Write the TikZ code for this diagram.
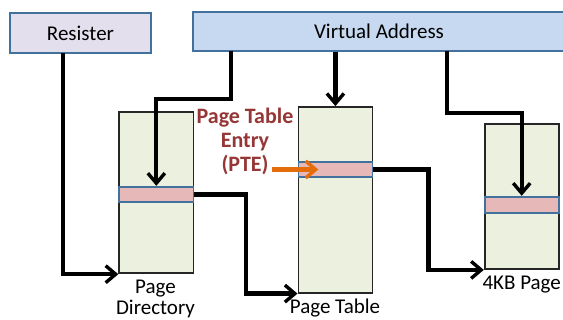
\documentclass[tikz,border=0pt]{standalone}
\usepackage{fontspec}
\setmainfont{Carlito}
\usetikzlibrary{arrows.meta}
\definecolor{boxblue}{HTML}{41719C}
\definecolor{regfill}{HTML}{E4DFEC}
\definecolor{vafill}{HTML}{C6D9F1}
\definecolor{tabfill}{HTML}{EBF1DE}
\definecolor{entryfill}{HTML}{E6B9B8}
\definecolor{ptered}{HTML}{953735}
\definecolor{ptearrow}{HTML}{E46C0A}
\tikzset{
  topbox/.style={draw=boxblue, line width=1.8pt, inner sep=0pt, font=\fontsize{21}{24}\selectfont},
  table/.style={draw=black!85, line width=1.8pt, fill=tabfill, inner sep=0pt},
  entry/.style={draw=boxblue, line width=1.8pt, fill=entryfill, inner sep=0pt},
  caption/.style={align=center, inner sep=0pt, font=\fontsize{21}{21.7}\selectfont},
  barb/.style={-{Straight Barb[length=10pt, width=17pt, line width=3.4pt]}},
  conn/.style={line width=4.2pt, barb}
}
\begin{document}
\begin{tikzpicture}[x=1pt, y=-1pt]
\useasboundingbox (0,0) rectangle (563,320);

% register and virtual address
\node[topbox, fill=regfill, minimum width=141pt, minimum height=39.5pt] (res) at (80.5,33) {Resister};
\node[topbox, fill=vafill, minimum width=372pt, minimum height=39pt] (va) at (379,31.5) {Virtual Address};

% tables
\node[table, minimum width=74.3pt, minimum height=161pt] (pd) at (156.35,192.8) {};
\node[entry, minimum width=74.3pt, minimum height=15.6pt] (pde) at (156.35,194.5) {};
\node[table, minimum width=74pt, minimum height=185.7pt] (pt) at (335.4,199.85) {};
\node[entry, minimum width=74pt, minimum height=15.6pt] (pte) at (335.4,169.5) {};
\node[table, minimum width=74pt, minimum height=144.7pt] (pg) at (521.7,196.65) {};
\node[entry, minimum width=74pt, minimum height=16pt] (pge) at (521.7,204.7) {};

% captions
\node[caption] (pdcap) at (155.5,299) {Page\\Directory};
\node[caption] (ptcap) at (335,307.7) {Page Table};
\node[caption] (pgcap) at (521.7,285) {4KB Page};
\node[align=center, inner sep=0pt, text=ptered, font=\bfseries\fontsize{22}{24}\selectfont] (ptelabel) at (245,141) {Page Table\\Entry\\(PTE)};

% connectors
\coordinate (regdown) at (63,53);
\draw[conn] (regdown) |- (pd.south west);
\coordinate (vaA) at (231,51);
\coordinate (bendA) at (156.35,99.3);
\draw[conn] (vaA) |- (bendA) -- (pde.north);
\draw[conn] (va.south -| pt.north) -- (pt.north);
\coordinate (vaC) at (447,51);
\coordinate (bendC) at (521.7,112.7);
\draw[conn] (vaC) |- (bendC) -- (pge.north);
\coordinate (bendD) at (246,194.5);
\draw[conn] (pde.east) -- (bendD) |- (pt.south west);
\coordinate (bendE) at (428.4,169.5);
\draw[conn] (pte.east) -- (bendE) |- (pg.south west);

% PTE pointer
\coordinate (ptestart) at (272.3,169.5);
\draw[ptearrow, line width=4.2pt, barb] (ptestart) -- (318.3,169.5);
\end{tikzpicture}
\end{document}
